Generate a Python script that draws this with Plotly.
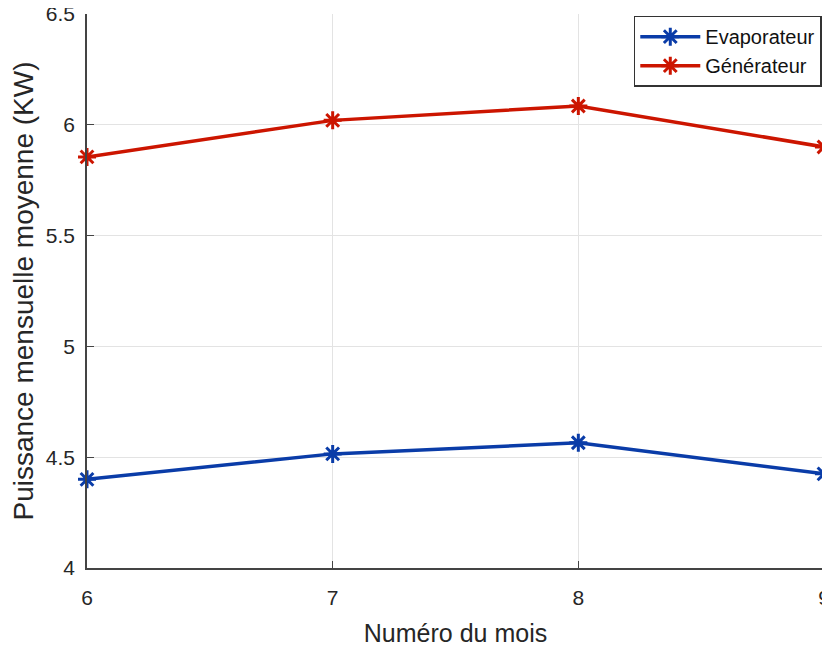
import plotly.graph_objects as go

mois = [6, 7, 8, 9]
evaporateur = [4.40, 4.515, 4.565, 4.425]
generateur = [5.855, 6.02, 6.085, 5.90]
y_ticks = [4, 4.5, 5, 5.5, 6, 6.5]
y_tick_labels = ["4", "4.5", "5", "5.5", "6", "6.5"]

fig = go.Figure()
fig.add_trace(go.Scatter(
    x=mois, y=evaporateur, name="Evaporateur", mode="lines+markers",
    line=dict(color="#0a3ca8", width=3.5),
    marker=dict(symbol="asterisk-open", size=15, line=dict(color="#0a3ca8", width=3)),
    cliponaxis=False,
))
fig.add_trace(go.Scatter(
    x=mois, y=generateur, name="Générateur", mode="lines+markers",
    line=dict(color="#cc1500", width=3.5),
    marker=dict(symbol="asterisk-open", size=15, line=dict(color="#cc1500", width=3)),
    cliponaxis=False,
))

fig.update_layout(
    width=830, height=650,
    margin=dict(l=79, r=14, t=6, b=90),
    paper_bgcolor="white", plot_bgcolor="white",
    font=dict(family="Liberation Sans, Arial, sans-serif", size=21, color="#262626"),
    legend=dict(
        x=0.997, y=0.997, xanchor="right", yanchor="top",
        bgcolor="white", bordercolor="#333", borderwidth=1.5,
        font=dict(size=20, color="#111"),
        itemwidth=60, tracegroupgap=0,
    ),
    xaxis=dict(
        range=[6, 9], tickvals=mois, ticktext=[str(m) for m in mois],
        showgrid=True, gridcolor="#e3e3e3", gridwidth=1,
        showline=True, linecolor="#444", linewidth=1.5,
        ticks="inside", ticklen=7, tickcolor="#444",
        ticklabelstandoff=10, ticklabeloverflow="allow",
        zeroline=False, mirror=False, automargin=False,
        title=dict(text="Numéro du mois", font=dict(size=25), standoff=17),
    ),
    yaxis=dict(
        range=[4, 6.5], tickvals=y_ticks, ticktext=y_tick_labels,
        showgrid=True, gridcolor="#e3e3e3", gridwidth=1,
        showline=True, linecolor="#444", linewidth=1.5,
        ticks="inside", ticklen=7, tickcolor="#444",
        ticklabelstandoff=6, ticklabeloverflow="allow",
        zeroline=False, automargin=False,
        title=dict(text="Puissance mensuelle moyenne (KW)", font=dict(size=28), standoff=8),
    ),
)

fig.write_html("out.html")
